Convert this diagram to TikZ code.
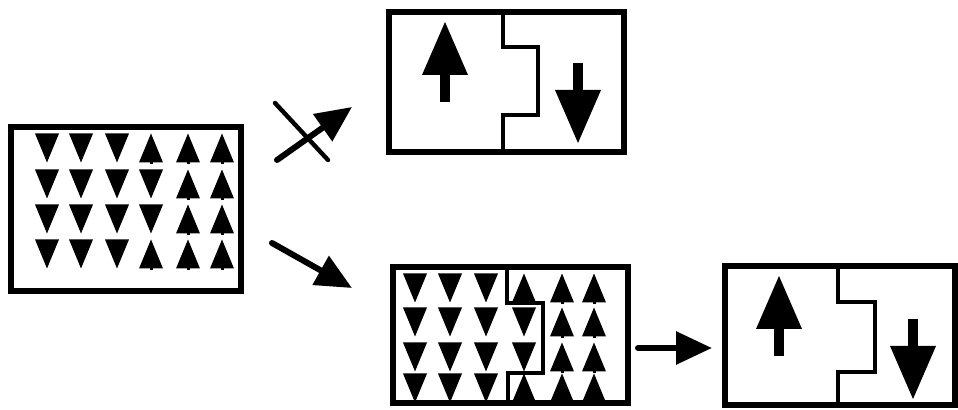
\documentclass[tikz,border=0pt]{standalone}
\usetikzlibrary{arrows.meta}
\tikzset{
  frame/.style={line width=3pt, line join=miter},
  wall/.style={line width=2.4pt, line join=miter},
  flow/.style={line width=3pt, line cap=round, -{Triangle[length=18pt,width=16pt]}},
  veto/.style={line width=2.2pt, line cap=round},
  spindown/.pic={\fill (-12,-14.5) -- (12,-14.5) -- (0,14.5) -- cycle;},
  spinup/.pic={\fill (-12,14.5) -- (12,14.5) -- (0,-14.5) -- cycle;
               \fill (-1.5,14) rectangle (1.5,16);},
  bigspin/.pic={\fill (-23,0) -- (23,0) -- (0,-53) -- cycle;
                \fill (-5,-1) rectangle (5,27);},
}
\begin{document}
\begin{tikzpicture}[x=0.5pt,y=-0.5pt]
\useasboundingbox (0,0) rectangle (958,410);

% --- initial mixed state ---
\draw[frame] (11,127) rectangle (241,291);
\foreach \y [count=\r] in {148,184,219,254} {
  \pgfmathtruncatemacro\ndown{(\r==1 || \r==4) ? 3 : 4}
  \foreach \x [count=\c] in {47,81,117,151,188,222} {
    \ifnum\c>\ndown
      \pic at (\x,\y) {spinup};
    \else
      \pic at (\x,\y) {spindown};
    \fi
  }
}

% --- direct two-domain state (forbidden path) ---
\draw[frame] (389,12) rectangle (624,152);
\draw[wall] (503,12) |- (538,47) |- (503,115) -- (503,152);
\pic at (445,75) {bigspin};
\pic[rotate=180] at (578,90) {bigspin};

% --- intermediate state with domain wall ---
\draw[frame] (393,267) rectangle (628,403);
\draw[wall] (507,267) |- (543,303) |- (508,373) -- (508,403);
\foreach \y [count=\r] in {288,322,357,388} {
  \pgfmathtruncatemacro\ndown{(\r==1 || \r==4) ? 3 : 4}
  \foreach \x [count=\c] in {415,450,486,524,562,594} {
    \ifnum\c>\ndown
      \pic at (\x,\y) {spinup};
    \else
      \pic at (\x,\y) {spindown};
    \fi
  }
}

% --- final two-domain state ---
\draw[frame] (725,266) rectangle (955,405);
\draw[wall] (838,266) |- (875,302) |- (838,372) -- (838,405);
\pic at (779,329) {bigspin};
\pic[rotate=180] at (913,346) {bigspin};

% --- transitions ---
\coordinate (upS) at (277,160);
\coordinate (upE) at (352,107);
\coordinate (xA) at (275,103);
\coordinate (xB) at (328,160);
\coordinate (dnS) at (272,243);
\coordinate (dnE) at (352,288);
\coordinate (hS) at (638,348);
\coordinate (hE) at (712,348);

\draw[flow] (upS) -- (upE);
\draw[veto] (xA) -- (xB);
\draw[flow] (dnS) -- (dnE);
\draw[flow] (hS) -- (hE);
\end{tikzpicture}
\end{document}
